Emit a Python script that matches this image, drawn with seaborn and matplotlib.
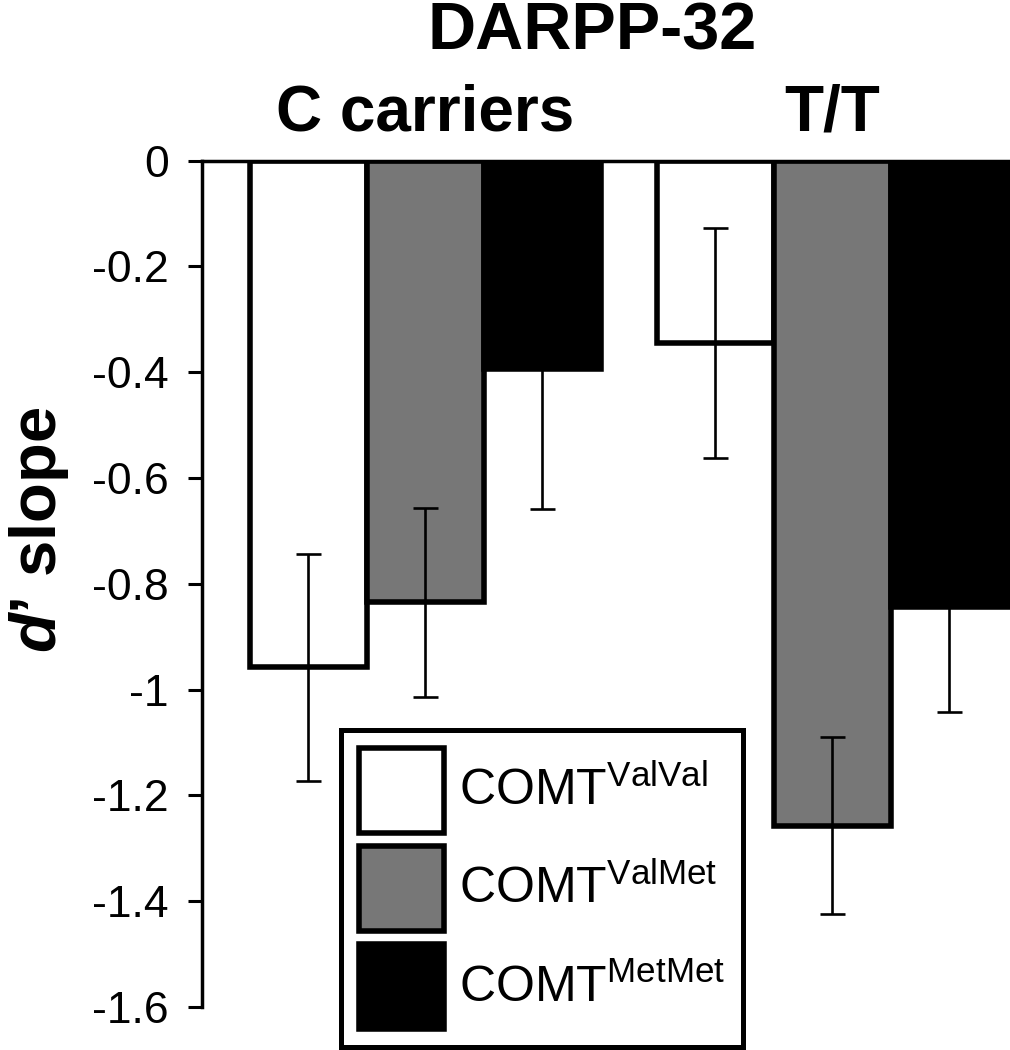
import matplotlib
matplotlib.use("Agg")
import matplotlib.pyplot as plt
import seaborn as sns
import pandas as pd

# values
groups = ["C carriers", "T/T"]
genotypes = ["ValVal", "ValMet", "MetMet"]
c_means = [-0.958, -0.835, -0.393]
c_errs = [0.214, 0.179, 0.265]
tt_means = [-0.345, -1.257, -0.843]
tt_errs = [0.218, 0.168, 0.199]
bar_colors = ["white", "#777777", "black"]
yticks = [0, -0.2, -0.4, -0.6, -0.8, -1.0, -1.2, -1.4, -1.6]
ytick_labels = ["0", "-0.2", "-0.4", "-0.6", "-0.8", "-1", "-1.2", "-1.4", "-1.6"]

df = pd.DataFrame({
    "group": [groups[0]] * 3 + [groups[1]] * 3,
    "genotype": genotypes * 2,
    "value": c_means + tt_means,
    "err": c_errs + tt_errs,
})

sns.set_style("white")
plt.rcParams["font.family"] = ["Liberation Sans", "DejaVu Sans"]
plt.rcParams["axes.unicode_minus"] = False
plt.rcParams["mathtext.fontset"] = "custom"
plt.rcParams["mathtext.rm"] = "Liberation Sans"
plt.rcParams["mathtext.it"] = "Liberation Sans:italic:bold"
for key in ["text.color", "axes.labelcolor", "xtick.color", "ytick.color"]:
    plt.rcParams[key] = "black"

fig = plt.figure(figsize=(10.1, 10.5), dpi=100)
ax = fig.add_axes([0.200, 0.041, 0.800, 0.806])

sns.barplot(data=df, x="group", y="value", hue="genotype", order=groups,
            hue_order=genotypes, palette=bar_colors, edgecolor="black",
            linewidth=4, width=0.8625, errorbar=None, legend=False, ax=ax)

bar_sets = list(ax.containers)
handles = [cont.patches[0] for cont in bar_sets]

# error bars on top of the bars
for gen, cont in zip(genotypes, bar_sets):
    for grp, bar in zip(groups, cont.patches):
        row = df[(df.group == grp) & (df.genotype == gen)].iloc[0]
        xc = bar.get_x() + bar.get_width() / 2
        ax.errorbar(xc, row["value"], yerr=row["err"], fmt="none", ecolor="black",
                    elinewidth=1.9, capsize=9, capthick=1.9, zorder=5)

ax.set_xlim(-0.548, 1.437)
ax.set_ylim(-1.6, 0)
ax.set_yticks(yticks)
ax.set_yticklabels(ytick_labels)
ax.set_xlabel("")
ax.set_ylabel("")

ax.xaxis.tick_top()
ax.tick_params(axis="x", length=0, pad=12, labelsize=46)
for lab in ax.get_xticklabels():
    lab.set_fontweight("bold")
ax.tick_params(axis="y", direction="out", length=10, width=2.2, pad=14,
               labelsize=32, color="black", left=True)

for side in ["right", "bottom"]:
    ax.spines[side].set_visible(False)
for side in ["left", "top"]:
    ax.spines[side].set_color("black")
    ax.spines[side].set_linewidth(2.5)

fig.text(592 / 1010, 1 - 50 / 1050, "DARPP-32", ha="center", va="baseline",
         fontsize=48, fontweight="bold")
fig.text(39 / 1010, 1 - 530 / 1050, "$\\mathit{d}$\u2019 slope", rotation=90,
         ha="center", va="center", fontsize=47, fontweight="bold")

labels = ["COMT$^{\\mathrm{%s}}$" % g for g in genotypes]
leg = ax.legend(handles, labels, loc="upper left",
                bbox_to_anchor=(341 / 1010, 1 - 729.5 / 1050),
                bbox_transform=fig.transFigure, borderaxespad=0,
                fontsize=36, handlelength=1.7, handleheight=2.24,
                handletextpad=0.3, labelspacing=0.26, borderpad=0.36,
                fancybox=False, framealpha=1)
leg.get_frame().set_edgecolor("black")
leg.get_frame().set_linewidth(3.6)

fig.savefig("out.png", dpi=100)
